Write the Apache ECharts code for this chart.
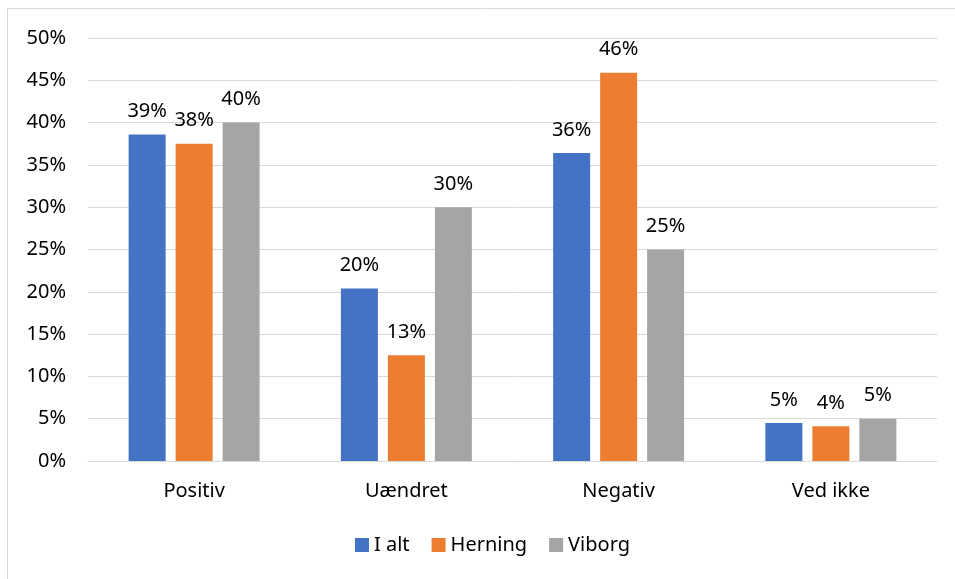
<!DOCTYPE html>
<html>
<head>
<meta charset="utf-8">
<script src="https://cdn.jsdelivr.net/npm/echarts@6/dist/echarts.min.js"></script>
<style>
  html, body { margin: 0; padding: 0; background: #fff; }
  #chart { width: 955px; height: 579px; }
</style>
</head>
<body>
<div id="chart"></div>
<script>
const categories = ['Positiv', 'Uændret', 'Negativ', 'Ved ikke'];
const seriesNames = ['I alt', 'Herning', 'Viborg'];
const iAlt = [38.6, 20.4, 36.4, 4.5];
const herning = [37.5, 12.5, 45.9, 4.1];
const viborg = [40.0, 30.0, 25.0, 5.0];
const yTicks = [0, 5, 10, 15, 20, 25, 30, 35, 40, 45, 50];

const colors = ['#4472C4', '#ED7D31', '#A5A5A5'];
const font = '"Noto Sans", "Open Sans", sans-serif';
const txt = '#000000';

const chart = echarts.init(document.getElementById('chart'));

const series = [iAlt, herning, viborg].map((vals, i) => ({
  name: seriesNames[i],
  type: 'bar',
  barWidth: 37,
  barGap: '27%',
  data: vals,
  itemStyle: { color: colors[i] },
  label: {
    show: true,
    position: 'top',
    distance: 13,
    color: txt,
    fontFamily: font,
    fontSize: 20,
    formatter: p => Math.round(p.value) + '%',
  },
}));

chart.setOption({
  animation: false,
  textStyle: { fontFamily: font },
  graphic: [{
    type: 'rect',
    shape: { x: 7.5, y: 8.5, width: 960, height: 600 },
    style: { fill: 'none', stroke: '#d9d9d9', lineWidth: 1 },
    silent: true,
  }],
  legend: {
    bottom: 19,
    left: 350,
    itemWidth: 14,
    itemHeight: 14,
    itemGap: 22,
    icon: 'rect',
    textStyle: { fontSize: 20, color: txt, fontFamily: font },
    data: seriesNames,
  },
  grid: { left: 88, right: 18, top: 38, bottom: 118 },
  xAxis: {
    type: 'category',
    data: categories,
    axisTick: { show: false },
    axisLine: { lineStyle: { color: '#d9d9d9', width: 1 } },
    axisLabel: { color: txt, fontSize: 20, fontFamily: font, margin: 20 },
  },
  yAxis: {
    type: 'value',
    min: yTicks[0],
    max: yTicks[yTicks.length - 1],
    interval: 5,
    axisLine: { show: false },
    axisTick: { show: false },
    axisLabel: { color: txt, fontSize: 20, fontFamily: font, margin: 22, formatter: v => v + '%' },
    splitLine: { lineStyle: { color: '#d9d9d9', width: 1 } },
  },
  series,
});
</script>
</body>
</html>
